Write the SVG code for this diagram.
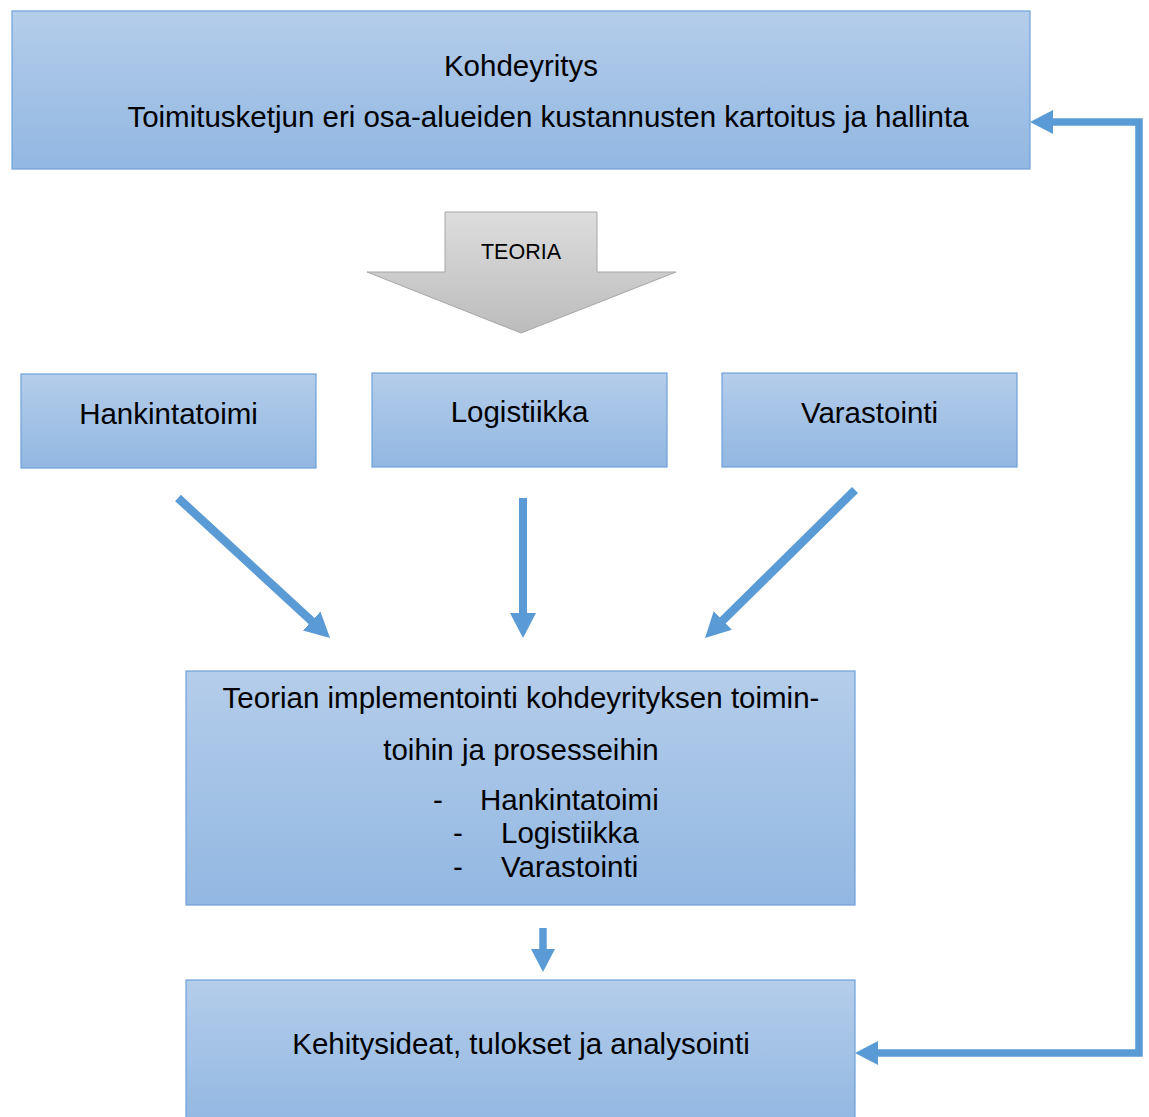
<svg xmlns="http://www.w3.org/2000/svg" width="1149" height="1117" viewBox="0 0 1149 1117">
  <style>
    .box { fill: url(#boxFill); stroke: #6fa1d9; stroke-width: 1.2; }
    .lbl { font-family: "Liberation Sans", Arial, sans-serif; font-size: 29.5px; fill: #000; }
    .mid { text-anchor: middle; }
    .conn { fill: none; stroke: #5b9bd5; stroke-linejoin: miter; }
  </style>
  <defs>
    <linearGradient id="boxFill" x1="0" y1="0" x2="0" y2="1">
      <stop offset="0" stop-color="#b4cdea"/>
      <stop offset="1" stop-color="#92b7e2"/>
    </linearGradient>
    <linearGradient id="grayFill" x1="0" y1="0" x2="0" y2="1">
      <stop offset="0" stop-color="#dddddd"/>
      <stop offset="1" stop-color="#bcbcbc"/>
    </linearGradient>
    <marker id="head" markerUnits="userSpaceOnUse" markerWidth="30" markerHeight="30" refX="2" refY="13" orient="auto">
      <path d="M0,0 L25,13 L0,26 z" fill="#5b9bd5"/>
    </marker>
    <marker id="headSm" markerUnits="userSpaceOnUse" markerWidth="30" markerHeight="30" refX="2" refY="12" orient="auto-start-reverse">
      <path d="M0,0 L23,12 L0,24 z" fill="#5b9bd5"/>
    </marker>
  </defs>

  <!-- connectors -->
  <g id="connectors">
    <path class="conn" stroke-width="8.5" d="M178,498 L313.1,622.4" marker-end="url(#head)"/>
    <path class="conn" stroke-width="8" d="M523,498 L523,615" marker-end="url(#head)"/>
    <path class="conn" stroke-width="8.5" d="M855,490 L721.4,621.8" marker-end="url(#head)"/>
    <path class="conn" stroke-width="7.5" d="M543,928 L543,951" marker-end="url(#headSm)"/>
    <path class="conn" stroke-width="7.5" d="M876,1053 H1139 V122 H1051" marker-start="url(#headSm)" marker-end="url(#headSm)"/>
  </g>

  <!-- target company -->
  <g id="kohdeyritys">
    <rect class="box" x="12" y="11" width="1018" height="158"/>
    <text class="lbl mid" x="521" y="76">Kohdeyritys</text>
    <text class="lbl mid" x="548" y="127">Toimitusketjun eri osa-alueiden kustannusten kartoitus ja hallinta</text>
  </g>

  <!-- theory block arrow -->
  <g id="teoria">
    <polygon points="445,212 597,212 597,272 676,272 521,333 367,272 445,272" fill="url(#grayFill)" stroke="#a6a6a6" stroke-width="1"/>
    <text class="mid" x="521" y="259" font-family="Liberation Sans, Arial, sans-serif" font-size="21.5">TEORIA</text>
  </g>

  <g id="hankintatoimi">
    <rect class="box" x="21" y="374" width="295" height="94"/>
    <text class="lbl mid" x="168.5" y="424">Hankintatoimi</text>
  </g>

  <g id="logistiikka">
    <rect class="box" x="372" y="373" width="295" height="94"/>
    <text class="lbl mid" x="519.5" y="422">Logistiikka</text>
  </g>

  <g id="varastointi">
    <rect class="box" x="722" y="373" width="295" height="94"/>
    <text class="lbl mid" x="869.5" y="423">Varastointi</text>
  </g>

  <!-- implementation -->
  <g id="implementointi">
    <rect class="box" x="186" y="671" width="669" height="234"/>
    <text class="lbl mid" x="521" y="708">Teorian implementointi kohdeyrityksen toimin-</text>
    <text class="lbl mid" x="521" y="760">toihin ja prosesseihin</text>
    <text class="lbl" x="433" y="810">-</text>
    <text class="lbl" x="480" y="810">Hankintatoimi</text>
    <text class="lbl" x="453" y="843">-</text>
    <text class="lbl" x="501" y="843">Logistiikka</text>
    <text class="lbl" x="453" y="877">-</text>
    <text class="lbl" x="501" y="877">Varastointi</text>
  </g>

  <!-- results -->
  <g id="kehitysideat">
    <rect class="box" x="186" y="980" width="669" height="145"/>
    <text class="lbl mid" x="521" y="1054">Kehitysideat, tulokset ja analysointi</text>
  </g>
</svg>
